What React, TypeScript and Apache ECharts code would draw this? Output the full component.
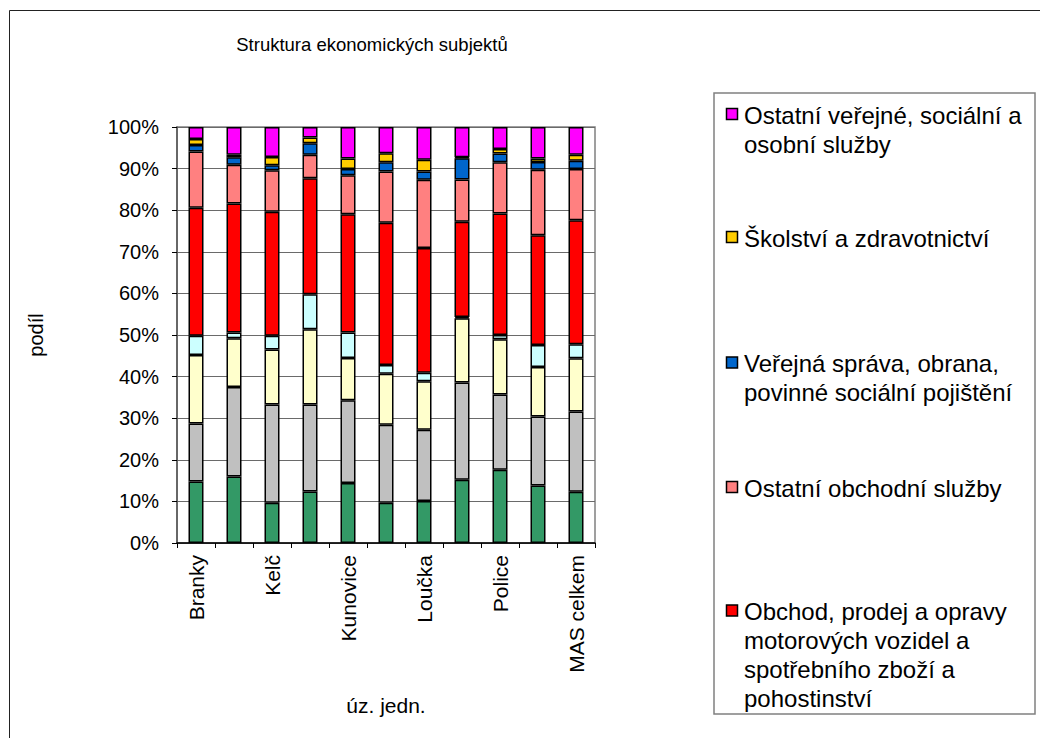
import React, { useEffect, useRef } from "react";
import * as echarts from "echarts";

const categories = [
  "Branky", "Choryně", "Kelč", "Kladeruby", "Kunovice", "Lhota",
  "Loučka", "Mikulůvka", "Police", "Rajnochovice", "MAS celkem",
];

const seriesNames = [
  "Zemědělství, lesnictví, rybolov",
  "Průmysl",
  "Stavebnictví",
  "Doprava, pošty a telekomunikace",
  "Obchod, prodej a opravy motorových vozidel a spotřebního zboží a pohostinství",
  "Ostatní obchodní služby",
  "Veřejná správa, obrana, povinné sociální pojištění",
  "Školství a zdravotnictví",
  "Ostatní veřejné, sociální a osobní služby",
];

const seriesColors = [
  "#339966", "#C0C0C0", "#FFFFCC", "#CCFFFF", "#FF0000",
  "#FF8080", "#0066CC", "#FFCC00", "#FF00FF",
];

const zemedelstvi = [14.8, 16.0, 9.7, 12.4, 14.4, 9.7, 10.1, 15.2, 17.6, 13.8, 12.3];
const prumysl = [13.9, 21.5, 23.6, 20.9, 19.9, 18.7, 17.1, 23.4, 18.1, 16.6, 19.3];
const stavebnictvi = [16.5, 11.7, 13.2, 18.1, 10.2, 12.3, 11.7, 15.4, 13.3, 11.9, 12.8];
const doprava = [4.6, 1.4, 3.3, 8.4, 6.1, 2.1, 2.0, 0.3, 1.0, 5.3, 3.4];
const obchod = [30.8, 31.0, 29.8, 27.9, 28.4, 34.2, 30.0, 22.9, 29.2, 26.4, 29.8];
const obchodniSluzby = [13.5, 9.3, 10.0, 5.6, 9.4, 12.3, 16.4, 10.2, 12.3, 15.7, 12.3];
const verejnaSprava = [1.6, 1.8, 1.2, 2.8, 1.5, 2.2, 2.0, 5.1, 2.1, 1.9, 2.0];
const skolstvi = [1.4, 0.6, 2.0, 1.4, 2.5, 2.2, 2.8, 0.2, 1.1, 0.8, 1.4];
const ostatniVerejne = [2.9, 6.7, 7.2, 2.5, 7.6, 6.3, 7.9, 7.3, 5.3, 7.6, 6.7];

const seriesValues = [
  zemedelstvi, prumysl, stavebnictvi, doprava, obchod,
  obchodniSluzby, verejnaSprava, skolstvi, ostatniVerejne,
];

const yTicks = [0, 10, 20, 30, 40, 50, 60, 70, 80, 90, 100];

const titleText = "Struktura ekonomických subjektů";
const xAxisName = "úz. jedn.";
const yAxisName = "podíl";

// legend entries shown (top-down), as series index + wrapped lines
const legendSeriesIdx = [8, 7, 6, 5, 4];
const legendLines = [
  ["Ostatní veřejné, sociální a", "osobní služby"],
  ["Školství a zdravotnictví"],
  ["Veřejná správa, obrana,", "povinné sociální pojištění"],
  ["Ostatní obchodní služby"],
  ["Obchod, prodej a opravy", "motorových vozidel a", "spotřebního zboží a", "pohostinství"],
];

const FONT = "'Liberation Sans', Arial, sans-serif";

export default function App() {
  const ref = useRef<HTMLDivElement>(null);

  useEffect(() => {
    if (!ref.current) return;
    const chart = echarts.init(ref.current, undefined, { renderer: "svg" });

    const legendFirstLineY = [115.5, 238.5, 364, 488.5, 612];
    const legendLH = 28.8;
    const legendFont = 24;

    const graphics: any[] = [
      {
        type: "rect",
        shape: { x: 9.5, y: 10.5, width: 1100, height: 800 },
        style: { fill: "none", stroke: "#222", lineWidth: 1 },
        silent: true,
      },
      {
        type: "rect",
        shape: { x: 714, y: 93, width: 321, height: 621 },
        style: { fill: "#fff", stroke: "#808080", lineWidth: 1.5 },
        silent: true,
      },
      {
        type: "text",
        x: 372,
        y: 44,
        style: {
          text: titleText,
          fontSize: 18.5,
          fontFamily: FONT,
          fill: "#000",
          textAlign: "center",
          textVerticalAlign: "middle",
        },
      },
    ];

    legendSeriesIdx.forEach((si, k) => {
      const cy = legendFirstLineY[k];
      graphics.push({
        type: "rect",
        shape: { x: 726.5, y: cy - 7, width: 11, height: 11 },
        style: { fill: seriesColors[si], stroke: "#000", lineWidth: 1.5 },
        silent: true,
      });
      graphics.push({
        type: "text",
        x: 744,
        y: cy - legendLH / 2,
        style: {
          text: legendLines[k].join("\n"),
          fontSize: legendFont,
          lineHeight: legendLH,
          fontFamily: FONT,
          fill: "#000",
          textAlign: "left",
          textVerticalAlign: "top",
        },
      });
    });

    const option: any = {
      animation: false,
      backgroundColor: "#fff",
      textStyle: { fontFamily: FONT },
      grid: {
        left: 177,
        top: 127,
        width: 418,
        height: 416,
        show: true,
        borderColor: "#808080",
        borderWidth: 1.5,
        containLabel: false,
      },
      xAxis: {
        type: "category",
        data: categories,
        name: xAxisName,
        nameLocation: "middle",
        nameGap: 152,
        nameTextStyle: { fontSize: 21, color: "#000", fontFamily: FONT },
        axisLine: { show: true, lineStyle: { color: "#000", width: 1.5 } },
        axisTick: { show: true, interval: 0, length: 5, lineStyle: { color: "#000" } },
        axisLabel: {
          interval: 1,
          rotate: 90,
          margin: 12,
          fontSize: 21,
          color: "#000",
          fontFamily: FONT,
        },
        splitLine: { show: false },
      },
      yAxis: {
        type: "value",
        min: 0,
        max: 100,
        interval: 10,
        name: yAxisName,
        nameLocation: "middle",
        nameRotate: 90,
        nameGap: 131,
        nameTextStyle: { fontSize: 20, color: "#000", fontFamily: FONT },
        axisLine: { show: true, lineStyle: { color: "#555", width: 1.5 } },
        axisTick: { show: true, length: 5, lineStyle: { color: "#000" } },
        axisLabel: {
          margin: 18,
          fontSize: 20,
          color: "#000",
          fontFamily: FONT,
          formatter: (v: number) => (yTicks.includes(v) ? `${v}%` : ""),
        },
        splitLine: { show: true, lineStyle: { color: "#6a6a6a", width: 1 } },
      },
      series: seriesValues.map((vals, i) => ({
        name: seriesNames[i],
        type: "bar",
        stack: "total",
        barWidth: 15,
        data: vals,
        itemStyle: {
          color: seriesColors[i],
          borderColor: "#000",
          borderWidth: 1.5,
        },
      })),
      graphic: graphics,
    };

    chart.setOption(option);
    return () => chart.dispose();
  }, []);

  return (
    <div
      ref={ref}
      style={{ position: "fixed", left: 0, top: 0, width: 1040, height: 738 }}
    />
  );
}
